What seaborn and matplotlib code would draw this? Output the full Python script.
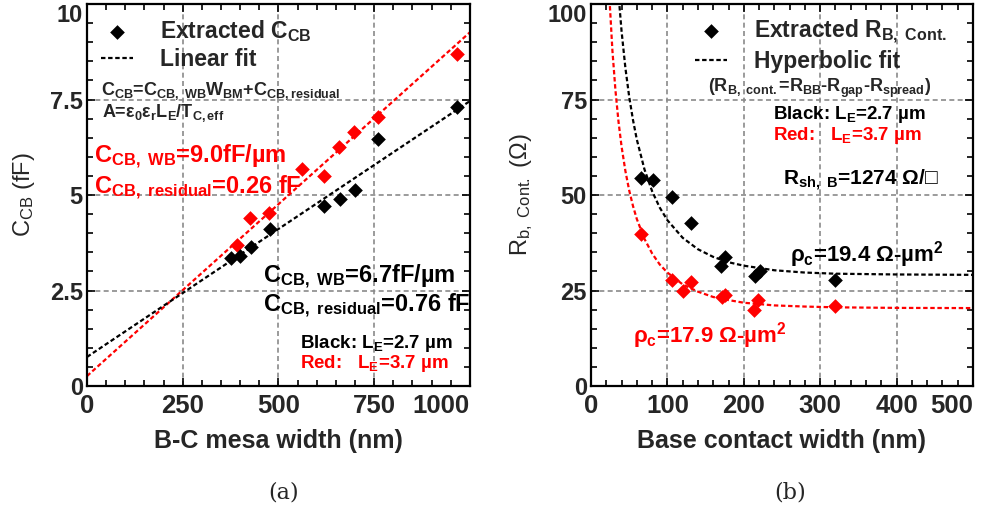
import matplotlib
matplotlib.use("Agg")
import matplotlib.pyplot as plt
import seaborn as sns
from matplotlib import font_manager
from matplotlib.ticker import MultipleLocator

# (a) C_CB vs B-C mesa width (nm)
mesa_black = [377, 400, 428, 478, 618, 660, 700, 759, 965]
ccb_black = [3.36, 3.40, 3.64, 4.11, 4.72, 4.90, 5.13, 6.47, 7.30]
mesa_red = [393, 425, 476, 561, 618, 658, 697, 760, 965]
ccb_red = [3.69, 4.40, 4.53, 5.67, 5.49, 6.25, 6.64, 7.04, 8.68]
fit_x = [0, 1000]
fit_black = [0.76, 7.46]
fit_red = [0.26, 9.26]

# (b) R_b,cont vs base contact width (nm)
width_black = [65, 81, 106, 131, 170, 176, 215, 221, 320]
rb_black = [54.4, 53.9, 49.6, 42.8, 31.3, 33.9, 28.7, 30.0, 27.7]
width_red = [66, 106, 120, 131, 171, 176, 214, 219, 320]
rb_red = [39.8, 27.8, 25.0, 27.2, 23.4, 23.9, 19.9, 22.5, 20.9]
curve_x_black = [36, 40, 45, 50, 55, 60, 70, 80, 90, 100, 120, 140, 160, 180, 200, 240, 280, 320, 400, 500]
curve_black = [102.6, 92.9, 83.3, 75.7, 69.6, 64.5, 56.7, 51.0, 46.7, 43.4, 38.8, 35.8,
               33.8, 32.4, 31.5, 30.3, 29.7, 29.4, 29.2, 29.1]
curve_x_red = [24, 28, 32, 36, 40, 45, 50, 55, 60, 70, 80, 90, 100, 120, 140, 160, 180, 200,
               240, 280, 320, 400, 500]
curve_red = [102.1, 87.9, 77.4, 69.2, 62.7, 56.3, 51.2, 47.1, 43.7, 38.5, 34.7, 31.8, 29.7,
             26.6, 24.7, 23.3, 22.5, 21.8, 21.1, 20.8, 20.6, 20.45, 20.4]

ticks_a_x = [0, 250, 500, 750, 1000]
ticks_a_y = [0, 2.5, 5, 7.5, 10]
labels_a_y = ['0', '2.5', '5', '7.5', '10']
ticks_b_x = [0, 100, 200, 300, 400, 500]
ticks_b_y = [0, 25, 50, 75, 100]
labels_b_y = ['0', '25', '50', '75', '100']

sns.set_theme(style="ticks")
plt.rcParams['font.family'] = ['Liberation Sans', 'DejaVu Sans']
plt.rcParams['mathtext.fontset'] = 'custom'
plt.rcParams['mathtext.rm'] = 'Liberation Sans'
plt.rcParams['mathtext.bf'] = 'Liberation Sans:bold'
plt.rcParams['mathtext.it'] = 'Liberation Sans:bold'
plt.rcParams['mathtext.default'] = 'bf'

names = {f.name for f in font_manager.fontManager.ttflist}
if 'Liberation Sans Narrow' in names:
    narrow, xtick_size, xlab_size = 'Liberation Sans Narrow', 20, 21
else:
    narrow, xtick_size, xlab_size = 'Liberation Sans', 18.5, 18

RED = '#ff0000'
fit_ls = (0, (2, 1.2))
grid_kw = dict(color='#8a8a8a', linestyle=(0, (3, 2)), linewidth=1.2)

fig = plt.figure(figsize=(9.85, 5.14), dpi=100)
ax1 = fig.add_axes([0.0883, 0.249, 0.3888, 0.7432])
ax2 = fig.add_axes([0.600, 0.249, 0.3878, 0.7432])


def style_axis(ax, xt, yt, ylabs, xminor, yminor, xlabel, ylabel):
    ax.set_xticks(xt, [str(v) for v in xt])
    ax.set_yticks(yt, ylabs)
    ax.xaxis.set_minor_locator(MultipleLocator(xminor))
    ax.yaxis.set_minor_locator(MultipleLocator(yminor))
    ax.set_xlim(xt[0], xt[-1])
    ax.set_ylim(yt[0], yt[-1])
    ax.tick_params(which='both', direction='in', top=True, right=True, color='black')
    ax.tick_params(which='major', length=6, width=1.2)
    ax.tick_params(which='minor', length=4, width=1.2)
    ax.tick_params(axis='x', pad=6)
    ax.tick_params(axis='y', pad=3)
    for s in ax.spines.values():
        s.set_linewidth(1.6)
        s.set_color('black')
    ax.grid(True, which='major', **grid_kw)
    ax.set_axisbelow(True)
    for lab in ax.get_xticklabels():
        lab.set_family([narrow, 'Liberation Sans'])
        lab.set_fontsize(xtick_size)
        lab.set_fontweight('bold')
    ax.get_xticklabels()[-1].set_horizontalalignment('right')
    for lab in ax.get_yticklabels():
        lab.set_fontsize(17)
        lab.set_fontweight('bold')
    ax.get_yticklabels()[-1].set_verticalalignment('top')
    ax.set_xlabel(xlabel, family=[narrow, 'Liberation Sans'], fontsize=xlab_size,
                  fontweight='bold', labelpad=8)
    ax.set_ylabel(ylabel, fontsize=17, fontweight='normal', labelpad=9)


# ---- (a)
sns.lineplot(x=fit_x, y=fit_red, ax=ax1, color=RED, linestyle=fit_ls, linewidth=1.6)
sns.lineplot(x=fit_x, y=fit_black, ax=ax1, color='black', linestyle=fit_ls, linewidth=1.6,
             label='Linear fit')
sns.scatterplot(x=mesa_red, y=ccb_red, ax=ax1, color=RED, marker='D', s=56, linewidth=0, zorder=3)
sns.scatterplot(x=mesa_black, y=ccb_black, ax=ax1, color='black', marker='D', s=56, linewidth=0,
                zorder=4, label='Extracted C$_{CB}$')

style_axis(ax1, ticks_a_x, ticks_a_y, labels_a_y, 50, 0.5, 'B-C mesa width (nm)',
           r'C$_{\mathregular{CB}}$ (fF)')

h, l = ax1.get_legend_handles_labels()
ax1.legend(h[::-1], l[::-1], loc='upper left', bbox_to_anchor=(0.0, 1.0), frameon=False,
           prop=dict(weight='bold', size=16.5), handlelength=1.4, handletextpad=1.2,
           labelspacing=0.2, borderaxespad=0.2)

t = ax1.transAxes
ax1.text(0.037, 0.762, 'C$_{CB}$=C$_{CB,\\ WB}$W$_{BM}$+C$_{CB,residual}$', transform=t,
         fontsize=13, fontweight='bold', va='baseline')
ax1.text(0.039, 0.704, 'A=ε$_0$ε$_r$L$_E$/T$_{C,eff}$', transform=t,
         fontsize=13, fontweight='bold', va='baseline')
ax1.text(0.018, 0.584, 'C$_{CB,\\ WB}$=9.0fF/µm', transform=t, color=RED,
         fontsize=17, fontweight='bold', va='baseline')
ax1.text(0.018, 0.505, 'C$_{CB,\\ residual}$=0.26 fF', transform=t, color=RED,
         fontsize=17, fontweight='bold', va='baseline')
ax1.text(0.46, 0.270, 'C$_{CB,\\ WB}$=6.7fF/µm', transform=t, color='black',
         fontsize=17, fontweight='bold', va='baseline')
ax1.text(0.46, 0.194, 'C$_{CB,\\ residual}$=0.76 fF', transform=t, color='black',
         fontsize=17, fontweight='bold', va='baseline')
ax1.text(0.556, 0.0995, 'Black: L$_E$=2.7 µm', transform=t, color='black',
         fontsize=13.5, fontweight='bold', va='baseline')
ax1.text(0.556, 0.047, 'Red:   L$_E$=3.7 µm', transform=t, color=RED,
         fontsize=13.5, fontweight='bold', va='baseline')

# ---- (b)
sns.lineplot(x=curve_x_red, y=curve_red, ax=ax2, color=RED, linestyle=fit_ls, linewidth=1.6)
sns.lineplot(x=curve_x_black, y=curve_black, ax=ax2, color='black', linestyle=fit_ls,
             linewidth=1.6, label='Hyperbolic fit')
sns.scatterplot(x=width_red, y=rb_red, ax=ax2, color=RED, marker='D', s=56, linewidth=0, zorder=3)
sns.scatterplot(x=width_black, y=rb_black, ax=ax2, color='black', marker='D', s=56, linewidth=0,
                zorder=4, label='Extracted R$_{B,\\ Cont.}$')

style_axis(ax2, ticks_b_x, ticks_b_y, labels_b_y, 20, 5, 'Base contact width (nm)',
           r'R$_{\mathregular{b,\ Cont.}}$ (Ω)')

h, l = ax2.get_legend_handles_labels()
ax2.legend(h[::-1], l[::-1], loc='upper left', bbox_to_anchor=(0.235, 1.0), frameon=False,
           prop=dict(weight='bold', size=16.5), handlelength=1.4, handletextpad=1.2,
           labelspacing=0.2, borderaxespad=0.2)

t = ax2.transAxes
ax2.text(0.306, 0.770, '(R$_{B,\\ cont.}$=R$_{BB}$-R$_{gap}$-R$_{spread}$)', transform=t,
         fontsize=13, fontweight='bold', va='baseline')
ax2.text(0.476, 0.698, 'Black: L$_E$=2.7 µm', transform=t, color='black',
         fontsize=13.5, fontweight='bold', va='baseline')
ax2.text(0.476, 0.645, 'Red:   L$_E$=3.7 µm', transform=t, color=RED,
         fontsize=13.5, fontweight='bold', va='baseline')
ax2.text(0.503, 0.526, 'R$_{sh,\\ B}$=1274 Ω/□', transform=t, color='black',
         fontsize=15, fontweight='bold', va='baseline', family=['Liberation Sans', 'DejaVu Sans'])
ax2.text(0.521, 0.325, 'ρ$_c$=19.4 Ω-µm$^2$', transform=t, color='black',
         fontsize=16, fontweight='bold', va='baseline')
ax2.text(0.110, 0.113, 'ρ$_c$=17.9 Ω-µm$^2$', transform=t, color=RED,
         fontsize=16, fontweight='bold', va='baseline')

fig.text(284 / 985, 1 - 492 / 514, '(a)', ha='center', va='center', fontsize=16,
         family=['DejaVu Serif'])
fig.text(790 / 985, 1 - 492 / 514, '(b)', ha='center', va='center', fontsize=16,
         family=['DejaVu Serif'])

fig.savefig('out.png', dpi=100)
